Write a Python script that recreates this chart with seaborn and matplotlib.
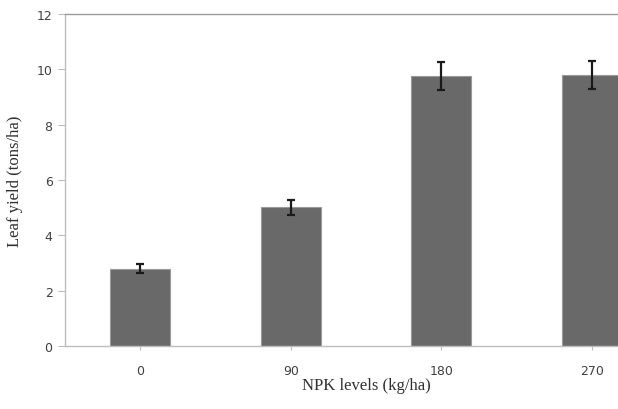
import seaborn as sns
import matplotlib.pyplot as plt
import pandas as pd

# Leaf yield by NPK level
npk_levels = ["0", "90", "180", "270"]
leaf_yield = [2.8, 5.02, 9.75, 9.8]
yield_err = [0.16, 0.27, 0.5, 0.5]

df = pd.DataFrame({"npk": npk_levels, "yield": leaf_yield})

sns.set_style("white")
fig = plt.figure(figsize=(6.18, 4.10), dpi=100)
# the plot area runs past the right edge, as in the original crop
ax = fig.add_axes([65 / 618, 1 - 347 / 410, 602 / 618, 332 / 410])

sns.barplot(data=df, x="npk", y="yield", order=npk_levels, color="#696969",
            width=0.4, errorbar=None, edgecolor="#9a9a9a", linewidth=0.8,
            saturation=1, ax=ax)
ax.errorbar(range(len(npk_levels)), leaf_yield, yerr=yield_err, fmt="none",
            ecolor="#1a1a1a", elinewidth=1.6, capsize=3, capthick=1.6)

ax.set_xlim(-0.5, 3.5)
ax.set_ylim(0, 12)
ax.set_yticks(range(0, 13, 2))

for side in ["left", "bottom", "top"]:
    ax.spines[side].set_visible(True)
    ax.spines[side].set_color("#bdbdbd")
    ax.spines[side].set_linewidth(1.0)
ax.spines["top"].set_color("#9a9a9a")
ax.spines["right"].set_visible(False)

ax.tick_params(axis="y", direction="out", length=5, color="#bdbdbd",
               labelsize=9, labelcolor="#404040", left=True, pad=4)
ax.tick_params(axis="x", direction="out", length=3, color="#bdbdbd",
               labelsize=9, labelcolor="#404040", bottom=True, pad=10)

ax.set_xlabel("NPK levels (kg/ha)", family="Liberation Serif", fontsize=12,
              color="#303030", labelpad=0)
ax.set_ylabel("Leaf yield (tons/ha)", family="Liberation Serif", fontsize=12,
              color="#303030", labelpad=10)

fig.savefig("out.png", dpi=100)
